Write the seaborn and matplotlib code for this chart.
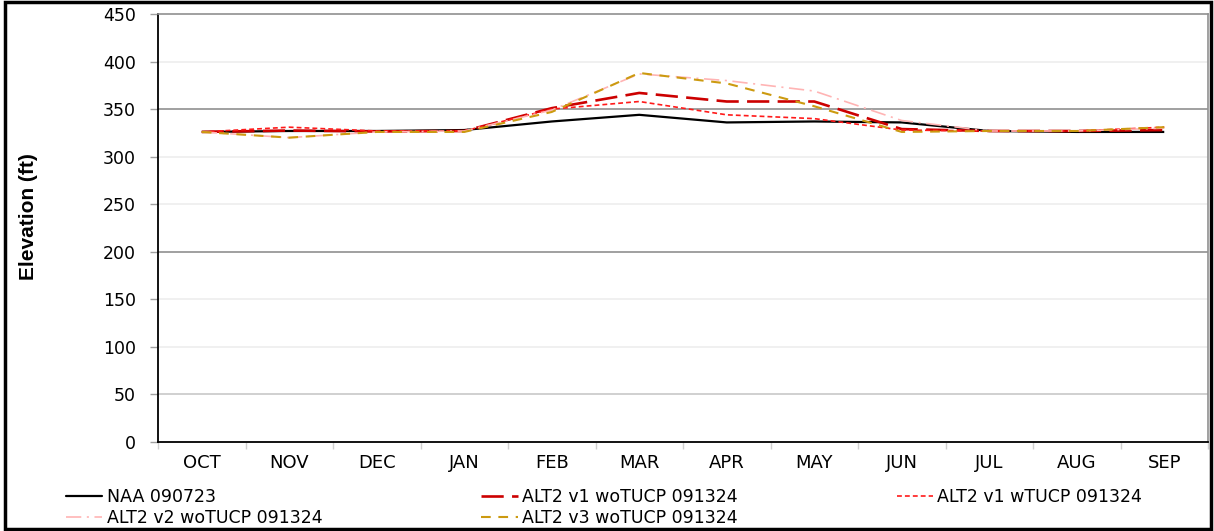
import numpy as np
import pandas as pd
import matplotlib
matplotlib.use('Agg')
import matplotlib.pyplot as plt
import seaborn as sns
from matplotlib.patches import Rectangle
from matplotlib.lines import Line2D
from matplotlib.ticker import FixedLocator

# ---------------- data ----------------
months = ['OCT', 'NOV', 'DEC', 'JAN', 'FEB', 'MAR', 'APR', 'MAY', 'JUN', 'JUL', 'AUG', 'SEP']
naa_090723 = [326, 327, 327, 328, 337, 344, 336, 337, 336, 327, 326, 326]
alt2_v1_wo = [326, 327.5, 326.5, 327, 351, 367, 358, 358, 329, 327, 327, 328]
alt2_v1_w = [326, 331, 327, 327, 350, 358, 344, 340, 328, 327, 327, 331]
alt2_v2_wo = [326, 320, 326, 327, 349, 387, 380, 369, 338, 327, 327, 330]
alt2_v3_wo = [326, 320, 326, 326, 347, 388, 377, 353, 326, 327, 327, 331]
series_labels = ['NAA 090723', 'ALT2 v1 woTUCP 091324', 'ALT2 v1 wTUCP 091324',
                 'ALT2 v2 woTUCP 091324', 'ALT2 v3 woTUCP 091324']
y_ticks = [0, 50, 100, 150, 200, 250, 300, 350, 400, 450]

# ---------------- styles ----------------
styles = [
    dict(color='#000000', lw=1.6, dashes=None),
    dict(color='#CC0000', lw=1.9, dashes=(16, 6)),
    dict(color='#FF1A1A', lw=1.2, dashes=(3.5, 2.2)),
    dict(color='#FFB4B4', lw=1.2, dashes=(11, 4, 1.5, 4)),
    dict(color='#CC9A10', lw=1.5, dashes=(7, 5.5)),
]

sns.set_theme(style='white')
plt.rcParams['font.family'] = ['DejaVu Sans']
plt.rcParams['lines.scale_dashes'] = False
plt.rcParams['text.color'] = '#000000'
plt.rcParams['axes.labelcolor'] = '#000000'
plt.rcParams['xtick.color'] = '#000000'
plt.rcParams['ytick.color'] = '#000000'

fig = plt.figure(figsize=(12.14, 5.31), dpi=100)
W, H = 1214, 531
ax = fig.add_axes([158 / W, 1 - 442 / H, (1208 - 158) / W, (442 - 14) / H])

all_series = [naa_090723, alt2_v1_wo, alt2_v1_w, alt2_v2_wo, alt2_v3_wo]
handles = []
for lab, vals, st in zip(series_labels, all_series, styles):
    df = pd.DataFrame({'Month': months, 'Elevation': vals})
    sns.lineplot(data=df, x='Month', y='Elevation', ax=ax, color=st['color'],
                 linewidth=st['lw'], sort=False, legend=False)
    ln = ax.get_lines()[-1]
    if st['dashes'] is not None:
        ln.set_dashes(st['dashes'])
    ln.set_solid_capstyle('butt')
    ln.set_dash_capstyle('butt')
    h = Line2D([], [], color=st['color'], lw=st['lw'])
    if st['dashes'] is not None:
        h.set_dashes(st['dashes'])
    handles.append(h)

ax.set_xlim(-0.5, len(months) - 0.5)
ax.set_ylim(0, 450)
ax.set_yticks(y_ticks)
ax.set_xticks(range(len(months)))
ax.set_xticklabels(months)
ax.xaxis.set_minor_locator(FixedLocator(np.arange(-0.5, len(months), 1.0)))
ax.tick_params(axis='x', which='major', length=0, pad=9, labelsize=13, labelcolor='#000000')
ax.tick_params(axis='x', which='minor', length=5, width=1, color='#d0d0d0', bottom=True)
ax.tick_params(axis='y', which='major', length=6, width=1, color='#a0a0a0', pad=10,
               labelsize=12.5, labelcolor='#000000', left=True)

# horizontal gridlines (shade varies as in the reference)
grid_cols = ['#000000', '#c8c8c8', '#eeeeee', '#eeeeee', '#909090', '#eeeeee',
             '#eeeeee', '#909090', '#eeeeee', '#909090']
for yv, gc in zip(y_ticks, grid_cols):
    if 0 < yv < 450:
        ax.axhline(yv, color=gc, lw=1.2, zorder=0)

ax.set_xlabel('')
ax.set_ylabel('Elevation (ft)', fontsize=15, fontweight='bold', color='#000000',
              family=['Liberation Sans Narrow', 'Liberation Sans', 'DejaVu Sans'])
ax.yaxis.set_label_coords((38 - 158) / (1208 - 158), (442 - 217) / (442 - 14))

for side in ['left', 'bottom']:
    ax.spines[side].set_color('#000000')
    ax.spines[side].set_linewidth(1.3)
for side in ['top', 'right']:
    ax.spines[side].set_color('#909090')
    ax.spines[side].set_linewidth(1.2)

# legend in row-major order with 3 columns
order = [0, 3, 1, 4, 2]
leg = fig.legend([handles[i] for i in order], [series_labels[i] for i in order],
                 ncol=3, loc='upper left', bbox_to_anchor=(66 / W, 1 - 488 / H),
                 frameon=False, fontsize=12.5, handlelength=2.1, handletextpad=0.25,
                 columnspacing=9.15, labelspacing=0.2, borderpad=0, borderaxespad=0)
for t in leg.get_texts():
    t.set_color('#000000')

# outer border
fig.patches.append(Rectangle((5 / W, 2 / H), (1211 - 5) / W, (529 - 2) / H,
                             transform=fig.transFigure, fill=False,
                             edgecolor='#000000', lw=2.5, zorder=10))

fig.savefig('out.png', dpi=100)
